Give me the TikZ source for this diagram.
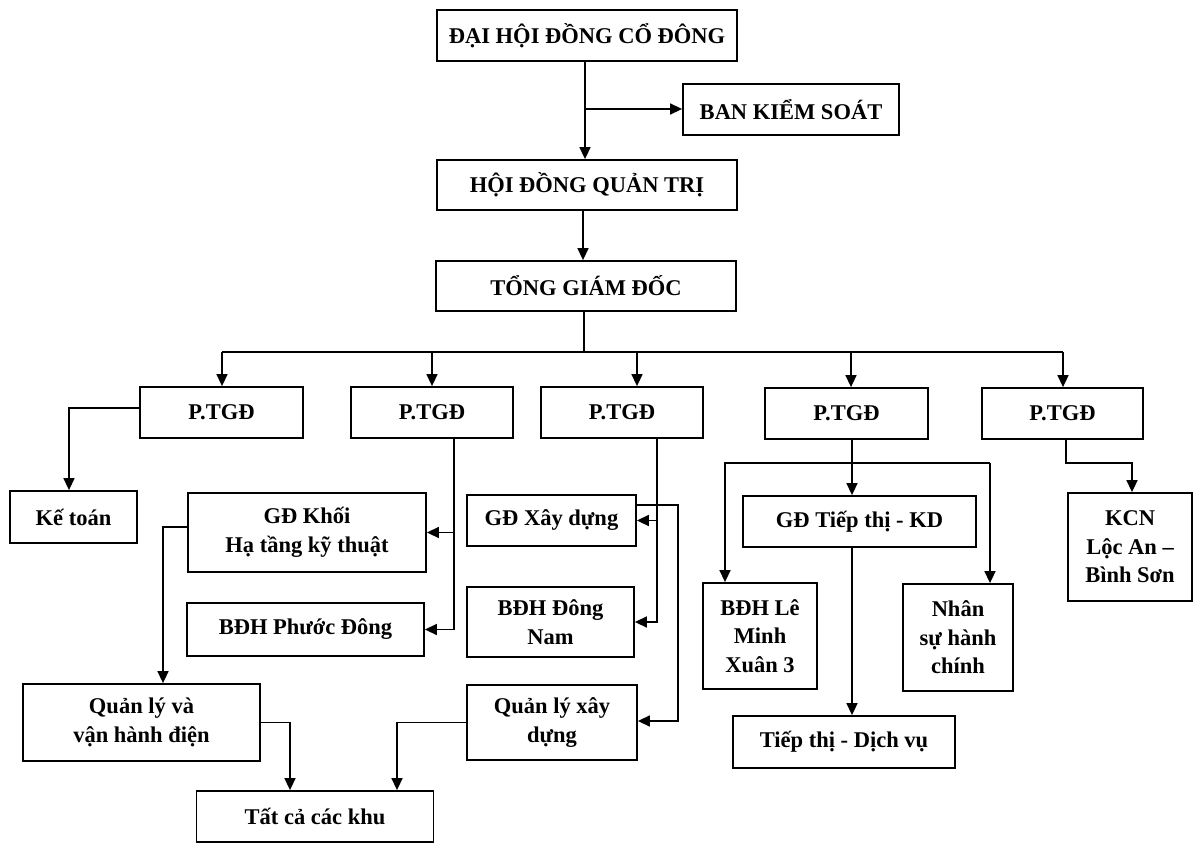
\documentclass[tikz,border=0pt]{standalone}
\usepackage{fontspec}
\setmainfont{Liberation Serif}
\usetikzlibrary{arrows.meta,calc}
\begin{document}
\begin{tikzpicture}[x=1pt,y=-1pt,
  box/.style={draw, line width=1.8pt, inner sep=0pt, align=center,
    font=\fontsize{22.5}{28.5}\selectfont\bfseries},
  conn/.style={line width=1.5pt},
  arr/.style={conn, -{Triangle[length=12pt,width=11pt]}},
]
\useasboundingbox (0,0) rectangle (1196,843);
% top
\node[box, minimum width=300, minimum height=51] (dh) at (587,35.5) {ĐẠI HỘI ĐỒNG CỔ ĐÔNG};
\node[box, minimum width=216, minimum height=51] (bks) at (791,109.5) {BAN KIỂM SOÁT};
\node[box, minimum width=300, minimum height=50] (hdqt) at (587,185) {HỘI ĐỒNG QUẢN TRỊ};
\node[box, minimum width=300, minimum height=50] (tgd) at (586,286) {TỔNG GIÁM ĐỐC};
% P.TGD row
\node[box, minimum width=163, minimum height=51] (p1) at (221.5,412.5) {P.TGĐ};
\node[box, minimum width=162, minimum height=51] (p2) at (432,412.5) {P.TGĐ};
\node[box, minimum width=162, minimum height=51] (p3) at (622,412.5) {P.TGĐ};
\node[box, minimum width=163, minimum height=51] (p4) at (846.5,413.5) {P.TGĐ};
\node[box, minimum width=161, minimum height=51] (p5) at (1062.5,413.5) {P.TGĐ};
% lower boxes
\node[box, minimum width=127, minimum height=52] (kt) at (73.5,517) {Kế toán};
\node[box, minimum width=238, minimum height=79] (gdk) at (307,532.5) {GĐ Khối\\Hạ tầng kỹ thuật};
\node[box, minimum width=237, minimum height=53] (bpd) at (305.5,629.5) {BĐH Phước Đông};
\node[box, minimum width=237, minimum height=77] (qlvh) at (141.5,722.5) {Quản lý và\\vận hành điện};
\node[box, minimum width=237, minimum height=51] (tcck) at (315,816.5) {Tất cả các khu};
\node[box, minimum width=169, minimum height=51] (gdxd) at (551.5,520.5) {GĐ Xây dựng};
\node[box, minimum width=167, minimum height=70] (bdn) at (550.5,622) {BĐH Đông\\Nam};
\node[box, minimum width=170, minimum height=75] (qlxd) at (552,722.5) {Quản lý xây\\dựng};
\node[box, minimum width=233, minimum height=51] (gdtt) at (859.5,521.5) {GĐ Tiếp thị - KD};
\node[box, minimum width=114, minimum height=106] (blm) at (760,636) {BĐH Lê\\Minh\\Xuân 3};
\node[box, minimum width=110, minimum height=107] (nshc) at (958,637.5) {Nhân\\sự hành\\chính};
\node[box, minimum width=222, minimum height=52] (ttdv) at (844,742) {Tiếp thị - Dịch vụ};
\node[box, minimum width=124, minimum height=108] (kcn) at (1130,547) {KCN\\Lộc An –\\Bình Sơn};
% coordinates
\coordinate (j1) at (585,109);
\coordinate (bus) at (584,352);
\coordinate (b1) at (222,352);
\coordinate (b5) at (1063,352);
\coordinate (v2) at (454,438);
\coordinate (v3) at (657,438);
\coordinate (v4) at (852,440);
\coordinate (t4) at (852,463);
\coordinate (t5) at (1066,440);
% top connectors
\draw[arr] (dh.south -| j1) -- (hdqt.north -| j1);
\draw[arr] (j1) -- (bks.west |- j1);
\draw[arr] (hdqt.south -| 583,0) -- (tgd.north -| 583,0);
\draw[conn] (tgd.south -| bus) -- (bus);
\draw[conn] (b1) -- (b5);
\draw[arr] (b1) -- (p1.north -| b1);
\draw[arr] (432,352) -- (p2.north -| 432,0);
\draw[arr] (637,352) -- (p3.north -| 637,0);
\draw[arr] (851,352) -- (p4.north -| 851,0);
\draw[arr] (b5) -- (p5.north -| b5);
% P.TGD 1
\draw[arr] (p1.west |- 0,408) -| (kt.north -| 69,0);
% P.TGD 2
\draw[arr] (v2) |- (bpd.east);
\draw[arr] (gdk.east -| v2) -- (gdk.east);
\draw[arr] (gdk.west |- 0,527) -| (qlvh.north -| 163,0);
\draw[arr] (qlvh.east) -| (tcck.north -| 290,0);
\draw[arr] (qlxd.west) -| (tcck.north -| 397,0);
% P.TGD 3
\draw[arr] (v3) |- (bdn.east);
\draw[arr] (gdxd.east -| v3) -- (gdxd.east);
\draw[arr] (gdxd.east |- 0,505) -| (678,721) -- (qlxd.east |- 0,721);
% P.TGD 4
\draw[arr] (v4) -- (gdtt.north -| v4);
\draw[arr] (t4 -| 990,0) -- (t4 -| 725,0) -- (blm.north -| 725,0);
\draw[arr] (t4 -| 990,0) -- (nshc.north -| 990,0);
\draw[arr] (gdtt.south -| v4) -- (ttdv.north -| v4);
% P.TGD 5
\draw[arr] (t5) |- (1132,463) -- (kcn.north -| 1132,0);
\end{tikzpicture}
\end{document}
